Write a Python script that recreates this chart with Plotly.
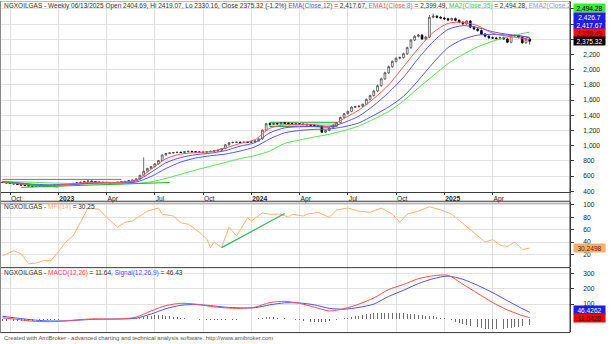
import pandas as pd
import plotly.graph_objects as go

# ---------------- data ----------------
WEEKS = pd.date_range("2022-09-23", "2025-06-13", freq="W-FRI")

OPEN = [522, 515, 510, 503, 497, 490, 482, 476, 470, 466,
        468, 471, 469, 474, 479, 484, 488, 491, 495, 499,
        505, 514, 520, 531, 536, 530, 522, 519, 517, 514,
        512, 516, 520, 526, 531, 541, 548, 562, 612, 665,
        702, 724, 762, 805, 878, 898, 905, 910, 914, 911,
        921, 926, 921, 918, 914, 916, 921, 927, 932, 940,
        962, 1012, 1040, 1044, 1046, 1043, 1047, 1045, 1050, 1062,
        1090, 1205, 1290, 1282, 1292, 1288, 1301, 1296, 1292, 1286,
        1290, 1284, 1280, 1276, 1270, 1266, 1258, 1178, 1200, 1232,
        1262, 1305, 1372, 1421, 1452, 1508, 1514, 1520, 1545, 1610,
        1660, 1720, 1790, 1880, 1960, 2040, 2110, 2150, 2160, 2210,
        2290, 2390, 2440, 2455, 2405, 2430, 2690, 2705, 2690, 2680,
        2670, 2655, 2672, 2650, 2625, 2605, 2640, 2560, 2535, 2515,
        2470, 2440, 2420, 2418, 2410, 2422, 2405, 2362, 2445, 2452,
        2428, 2355, 2404.69]
HIGH = [526, 519, 514, 507, 501, 494, 486, 480, 474, 472,
        475, 475, 478, 483, 488, 492, 495, 499, 503, 509,
        518, 524, 535, 540, 540, 534, 526, 523, 521, 518,
        520, 524, 530, 535, 545, 552, 566, 618, 846, 708,
        732, 770, 813, 886, 906, 913, 918, 922, 922, 929,
        934, 934, 929, 926, 924, 929, 935, 940, 948, 970,
        1020, 1048, 1052, 1054, 1054, 1055, 1055, 1058, 1070, 1098,
        1215, 1300, 1300, 1302, 1302, 1311, 1311, 1306, 1302, 1300,
        1300, 1294, 1290, 1286, 1280, 1276, 1268, 1210, 1242, 1272,
        1315, 1382, 1431, 1462, 1520, 1526, 1532, 1557, 1622, 1672,
        1735, 1805, 1895, 1975, 2055, 2125, 2165, 2175, 2225, 2305,
        2405, 2455, 2470, 2470, 2445, 2720, 2740, 2720, 2705, 2695,
        2685, 2687, 2687, 2665, 2640, 2655, 2655, 2575, 2550, 2530,
        2485, 2455, 2435, 2433, 2437, 2437, 2420, 2460, 2467, 2467,
        2443, 2419, 2419.07]
LOW = [511, 506, 499, 493, 486, 478, 472, 466, 462, 462,
       464, 465, 465, 470, 475, 480, 484, 487, 491, 495,
       501, 510, 516, 527, 526, 518, 515, 513, 510, 508,
       508, 512, 516, 522, 527, 537, 544, 558, 606, 659,
       694, 716, 754, 797, 870, 890, 897, 902, 903, 903,
       913, 913, 910, 906, 906, 908, 913, 919, 924, 932,
       954, 1004, 1032, 1036, 1035, 1035, 1037, 1037, 1042, 1054,
       1080, 1195, 1272, 1272, 1278, 1278, 1286, 1282, 1276, 1276,
       1274, 1270, 1266, 1260, 1256, 1248, 1168, 1168, 1190, 1222,
       1252, 1295, 1362, 1411, 1440, 1496, 1502, 1508, 1533, 1598,
       1645, 1705, 1775, 1865, 1945, 2025, 2095, 2135, 2145, 2195,
       2275, 2375, 2425, 2390, 2390, 2415, 2675, 2675, 2665, 2655,
       2640, 2640, 2635, 2610, 2590, 2590, 2545, 2520, 2500, 2455,
       2425, 2405, 2403, 2395, 2395, 2390, 2347, 2347, 2430, 2413,
       2340, 2340, 2330.16]
CLOSE = [515, 510, 503, 497, 490, 482, 476, 470, 466, 468,
         471, 469, 474, 479, 484, 488, 491, 495, 499, 505,
         514, 520, 531, 536, 530, 522, 519, 517, 514, 512,
         516, 520, 526, 531, 541, 548, 562, 612, 665, 702,
         724, 762, 805, 878, 898, 905, 910, 914, 911, 921,
         926, 921, 918, 914, 916, 921, 927, 932, 940, 962,
         1012, 1040, 1044, 1046, 1043, 1047, 1045, 1050, 1062, 1090,
         1205, 1290, 1282, 1292, 1288, 1301, 1296, 1292, 1286, 1290,
         1284, 1280, 1276, 1270, 1266, 1258, 1178, 1200, 1232, 1262,
         1305, 1372, 1421, 1452, 1508, 1514, 1520, 1545, 1610, 1660,
         1720, 1790, 1880, 1960, 2040, 2110, 2150, 2160, 2210, 2290,
         2390, 2440, 2455, 2405, 2430, 2690, 2705, 2690, 2680, 2670,
         2655, 2672, 2650, 2625, 2605, 2640, 2560, 2535, 2515, 2470,
         2440, 2420, 2418, 2410, 2422, 2405, 2362, 2445, 2452, 2428,
         2355, 2404.17, 2375.32]

# moving averages, sampled every 4 weeks (week index)
LINE_WEEKS = list(range(0, 141, 4)) + [142]
EMA8 = [518, 500, 478, 474, 485, 505, 522, 518, 520, 550, 690, 830, 890, 910, 922,
        970, 1030, 1080, 1230, 1275, 1278, 1275, 1255, 1360, 1470, 1620, 1800, 2040,
        2280, 2490, 2610, 2625, 2580, 2480, 2440, 2415, 2399.49]
EMA12 = [520, 505, 486, 479, 483, 497, 514, 517, 518, 537, 650, 775, 845, 882, 902,
         935, 995, 1040, 1170, 1235, 1250, 1252, 1245, 1305, 1390, 1530, 1700, 1900,
         2150, 2370, 2530, 2580, 2555, 2500, 2465, 2440, 2417.67]
EMA2 = [525, 512, 495, 486, 485, 492, 505, 510, 512, 522, 595, 700, 785, 838, 868,
        890, 930, 985, 1090, 1170, 1200, 1215, 1220, 1250, 1300, 1400, 1510, 1650,
        1860, 2090, 2290, 2400, 2455, 2465, 2455, 2440, 2426.70]
MA35 = [530, 525, 520, 512, 506, 501, 498, 498, 500, 505, 525, 570, 625, 680, 730,
        780, 830, 870, 930, 1030, 1075, 1115, 1150, 1200, 1260, 1350, 1450, 1590,
        1760, 1920, 2080, 2200, 2300, 2375, 2430, 2475, 2494.28]

# money flow index
MFI_WEEKS = [0, 3, 5, 7, 9, 11, 13, 15, 17, 19, 21, 23, 26, 28, 31, 33, 35, 39, 42, 43,
             46, 48, 50, 53, 55, 56, 57, 59, 61, 63, 66, 67, 70, 72, 75, 77, 78, 81, 82, 85,
             88, 90, 93, 96, 99, 102, 105, 107, 109, 112, 115, 118, 121, 124, 127, 130,
             132, 134, 136, 138, 140, 142]
MFI = [18, 26, 21, 5, 6, 10, 10, 24, 40, 50, 72, 95, 93, 80, 64, 72, 74, 90, 95, 85,
       82, 71, 69, 56, 45, 31, 40, 31, 64, 50, 79, 74, 87, 85, 85, 80, 85, 82, 85, 88,
       80, 92, 95, 90, 88, 95, 85, 72, 85, 90, 97, 92, 85, 70, 55, 40, 44, 35, 33, 40,
       28, 30.2498]

# MACD(12,26) and signal(9), sampled every 4 weeks; histogram weekly
MACD = [10, 0, -12, -15, -12, -3, 3, 2, 3, 15, 55, 90, 105, 100, 85, 75, 72, 80, 110,
        118, 105, 80, 55, 70, 100, 140, 195, 228, 266, 285, 288, 230, 170, 110, 62, 25,
        11.6428]
SIGNAL = [20, 8, -3, -10, -10, -6, 0, 2, 3, 8, 35, 70, 92, 97, 90, 80, 75, 76, 95, 108,
          107, 95, 72, 67, 78, 100, 150, 190, 234, 266, 283, 262, 222, 175, 122, 70,
          46.4262]
HIST = [-8, -8, -9, -9, -9, -10, -10, -10, -9, -8, -7, -6, -5, -4, -3, -2, -1, 0, 1, 2,
        3, 3, 3, 3, 2, 1, 0, 0, 0, 0, 0, 0, 1, 2, 3, 5, 8, 12, 17, 22,
        25, 28, 30, 28, 25, 22, 18, 14, 10, 7, 4, 2, 0, -2, -4, -5, -6, -6, -5, -5,
        -4, -3, -2, -1, 0, 1, 2, 3, 5, 8, 12, 16, 17, 15, 12, 9, 6, 3, 0, -3,
        -6, -9, -12, -14, -16, -17, -18, -16, -13, -9, -4, 1, 6, 11, 16, 20, 25, 29, 33, 36,
        39, 41, 43, 44, 44, 43, 42, 41, 40, 38, 36, 34, 31, 28, 25, 22, 19, 15, 10, 6,
        3, -6, -15, -24, -32, -38, -44, -49, -53, -57, -60, -63, -65, -65, -64, -62, -59, -55, -52, -50,
        -45, -40, -34.79]

# user-drawn study lines: (week, value) -> (week, value)
PRICE_TRENDS = [((0, 557), (32, 557)), ((0, 527), (15, 455)), ((5, 452), (45, 516))]
PRICE_ZONE = ((72, 1252), (90, 1309))
MFI_TREND = ((59, 31), (76, 86))

DATE_TICKS = ["2022-10-07", "2023-01-06", "2023-04-07", "2023-07-07", "2023-10-06",
              "2024-01-05", "2024-04-05", "2024-07-05", "2024-10-04", "2025-01-03",
              "2025-04-04"]
DATE_LABELS = ["Oct", "<b>2023</b>", "Apr", "Jul", "Oct", "<b>2024</b>", "Apr", "Jul",
               "Oct", "<b>2025</b>", "Apr"]
PRICE_TICKS = list(range(400, 2801, 200))
MFI_TICKS = [20, 40, 60, 80, 100]
MACD_TICKS = [100, 200, 300]

# ---------------- styling ----------------
W, H = 612, 344
FONT = "Liberation Sans"
C_EMA8, C_EMA12, C_EMA2, C_MA35 = "#ff5a5a", "#5656ff", "#5656ff", "#5fdc5f"
C_MFI, C_MACD, C_SIG = "#ffb27a", "#ff5050", "#5050ff"
GRID = "#e2e2e2"
AXIS = "#3a3a3a"
X_START, X_END = pd.Timestamp("2022-09-20"), pd.Timestamp("2025-08-28")
XDOM = [1 / W, 570 / W]


def py(p):
    """pixel row -> paper fraction"""
    return 1 - p / H


def fmt(v):
    s = f"{v:,.2f}"
    return s.rstrip("0").rstrip(".") if "." in s else s


fig = go.Figure()

fig.add_trace(go.Candlestick(
    x=WEEKS, open=OPEN, high=HIGH, low=LOW, close=CLOSE,
    increasing=dict(line=dict(color="#3a3a3a", width=0.7), fillcolor="#ffffff"),
    decreasing=dict(line=dict(color="#000000", width=0.7), fillcolor="#000000"),
    whiskerwidth=0, xaxis="x", yaxis="y", hoverinfo="skip", showlegend=False))

lw = [WEEKS[i] for i in LINE_WEEKS]
for vals, col in [(MA35, C_MA35), (EMA2, C_EMA2), (EMA12, C_EMA12), (EMA8, C_EMA8)]:
    fig.add_trace(go.Scatter(x=lw, y=vals, mode="lines", xaxis="x", yaxis="y",
                             line=dict(color=col, width=1, shape="spline", smoothing=0.7),
                             hoverinfo="skip", showlegend=False))

for (wa, va), (wb, vb) in PRICE_TRENDS:
    fig.add_trace(go.Scatter(x=[WEEKS[wa], WEEKS[wb]], y=[va, vb], mode="lines",
                             xaxis="x", yaxis="y", line=dict(color="#22b422", width=1),
                             hoverinfo="skip", showlegend=False))

(za, zlo), (zb, zhi) = PRICE_ZONE
fig.add_shape(type="rect", xref="x", yref="y", x0=WEEKS[za], x1=WEEKS[zb], y0=zlo, y1=zhi,
              line=dict(color="#2ea44f", width=1), fillcolor="rgba(90,190,130,0.40)",
              layer="below")

fig.add_trace(go.Scatter(x=[WEEKS[i] for i in MFI_WEEKS], y=MFI, mode="lines",
                         xaxis="x2", yaxis="y2", line=dict(color=C_MFI, width=1),
                         hoverinfo="skip", showlegend=False))
(ma, mva), (mb, mvb) = MFI_TREND
fig.add_trace(go.Scatter(x=[WEEKS[ma], WEEKS[mb]], y=[mva, mvb], mode="lines",
                         xaxis="x2", yaxis="y2", line=dict(color="#35b060", width=1.2),
                         hoverinfo="skip", showlegend=False))

fig.add_trace(go.Bar(x=WEEKS, y=HIST, xaxis="x3", yaxis="y3", width=1.7 * 86400000,
                     marker=dict(color="#6e6e6e", line=dict(width=0)),
                     hoverinfo="skip", showlegend=False))
fig.add_trace(go.Scatter(x=lw, y=SIGNAL, mode="lines", xaxis="x3", yaxis="y3",
                         line=dict(color=C_SIG, width=1, shape="spline", smoothing=0.7),
                         hoverinfo="skip", showlegend=False))
fig.add_trace(go.Scatter(x=lw, y=MACD, mode="lines", xaxis="x3", yaxis="y3",
                         line=dict(color=C_MACD, width=1, shape="spline", smoothing=0.7),
                         hoverinfo="skip", showlegend=False))

# pointer tips of the last-value tags
tip_x = X_END + pd.Timedelta(days=3)
for yax, xax, val, col in [("y", "x", CLOSE[-1], "#000000"), ("y2", "x2", MFI[-1], "#ffad6b"),
                           ("y3", "x3", MACD[-1], "#ee0000")]:
    fig.add_trace(go.Scatter(x=[tip_x], y=[val], mode="markers", xaxis=xax, yaxis=yax,
                             marker=dict(symbol="triangle-left", size=7, color=col),
                             cliponaxis=False, hoverinfo="skip", showlegend=False))

tickfont = dict(family=FONT, size=6.7, color="#222222")
xcommon = dict(domain=XDOM, range=[X_START, X_END], tickvals=DATE_TICKS, showgrid=True,
               gridcolor=GRID, gridwidth=1, zeroline=False, fixedrange=True)
ycommon = dict(side="right", showgrid=True, gridcolor=GRID, zeroline=False, ticks="outside",
               ticklen=3, tickcolor=AXIS, tickfont=tickfont, showline=True, linecolor=AXIS,
               linewidth=1, ticklabelstandoff=8, fixedrange=True)

price_text = [f"{v:,}" if v <= 2200 else "" for v in PRICE_TICKS]

fig.update_layout(
    width=W, height=H, margin=dict(l=0, r=0, t=0, b=0),
    paper_bgcolor="white", plot_bgcolor="white", showlegend=False,
    font=dict(family=FONT, size=6.5, color="#222222"),
    xaxis=dict(**xcommon, anchor="y", ticktext=DATE_LABELS, ticks="outside", ticklen=2,
               tickcolor=AXIS, showline=True, linecolor=AXIS, linewidth=1,
               ticklabelposition="outside right", tickfont=tickfont,
               rangeslider=dict(visible=False)),
    xaxis2=dict(**xcommon, anchor="y2", showticklabels=False, matches="x"),
    xaxis3=dict(**xcommon, anchor="y3", showticklabels=False, matches="x"),
    yaxis=dict(**ycommon, anchor="x", domain=[py(193), py(1)], range=[387, 2891],
               tickvals=PRICE_TICKS, ticktext=price_text),
    yaxis2=dict(**ycommon, anchor="x2", domain=[py(268), py(203)], range=[0.3, 104.3],
                tickvals=MFI_TICKS),
    yaxis3=dict(**ycommon, anchor="x3", domain=[py(334), py(269)], range=[-83, 338],
                tickvals=MACD_TICKS),
    bargap=0,
)

# panel frames
frame = []
for yy, col, wdt in [(0.5, "#bdbdbd", 1), (202.0, AXIS, 1), (204.0, "#9a9a9a", 1),
                     (269.0, AXIS, 1), (334.5, AXIS, 1)]:
    frame.append(dict(type="line", xref="paper", yref="paper", x0=0, x1=570 / W,
                      y0=py(yy), y1=py(yy), line=dict(color=col, width=wdt)))
frame.append(dict(type="line", xref="paper", yref="paper", x0=0.5 / W, x1=0.5 / W,
                  y0=py(334.5), y1=py(0), line=dict(color="#8a8a8a", width=1)))
frame.append(dict(type="line", xref="paper", yref="paper", x0=570 / W, x1=570 / W,
                  y0=py(334.5), y1=py(0), line=dict(color=AXIS, width=1)))
for s in frame:
    fig.add_shape(**s)

# titles
chg = (CLOSE[-1] / CLOSE[-2] - 1) * 100
main_title = (
    f"NGXOILGAS - Weekly {WEEKS[-1]:%m/%d/%Y} Open {OPEN[-1]:.2f}, Hi {HIGH[-1]:.2f}, "
    f"Lo {LOW[-1]:.2f}, Close {CLOSE[-1]:.2f} ({chg:.1f}%) "
    f"<span style='color:{C_EMA12}'>EMA(Close,12)</span> = {EMA12[-1]:,.2f}, "
    f"<span style='color:{C_EMA8}'>EMA1(Close,8)</span> = {EMA8[-1]:,.2f}, "
    f"<span style='color:#3ccc3c'>MA2(Close,35)</span> = {MA35[-1]:,.2f}, "
    f"<span style='color:#8f8fff'>EMA2(Close,2</span>"
)
mfi_title = f"NGXOILGAS - <span style='color:{C_MFI}'>MFI(14)</span> = {MFI[-1]:.2f}"
macd_title = (f"NGXOILGAS - <span style='color:{C_MACD}'>MACD(12,26)</span> = {MACD[-1]:.2f}, "
              f"<span style='color:{C_SIG}'>Signal(12,26,9)</span> = {SIGNAL[-1]:.2f}")
footer = ("Created with AmiBroker - advanced charting and technical analysis software. "
          "http://www.amibroker.com")

for txt, yy, sz, col in [(main_title, 5.2, 6.5, "#333333"), (mfi_title, 207.5, 6.5, "#333333"),
                         (macd_title, 274, 6.5, "#333333"), (footer, 340, 5.9, "#555555")]:
    fig.add_annotation(text=txt, xref="paper", yref="paper", x=2 / W, y=py(yy),
                       xanchor="left", yanchor="middle", showarrow=False,
                       font=dict(family=FONT, size=sz, color=col))

# last-value tags
tags = [
    (fmt(MA35[-1]), "paper", py(7.0), "#35ee35", "#000000"),
    (fmt(EMA2[-1]), "paper", py(16.0), "#1e1edc", "#ffffff"),
    (fmt(EMA12[-1]), "paper", py(24.2), "#1e1edc", "#ffffff"),
    (fmt(EMA8[-1]), "paper", py(32.4), "#ee1111", "#5a0000"),
    (fmt(CLOSE[-1]), "y", CLOSE[-1], "#000000", "#ffffff"),
    (f"{MFI[-1]:.4f}", "y2", MFI[-1], "#ffad6b", "#4a2a00"),
    (f"{SIGNAL[-1]:.4f}", "paper", py(312.0), "#1e1edc", "#ffffff"),
    (f"{MACD[-1]:.4f}", "y3", MACD[-1], "#ee0000", "#4a0000"),
]
for txt, yref, yv, bg, fg in tags:
    fig.add_annotation(text=txt, xref="paper", yref=yref, x=573 / W, y=yv,
                       xanchor="left", yanchor="middle", showarrow=False,
                       bgcolor=bg, borderpad=0, width=31, height=8, align="center",
                       font=dict(family=FONT, size=6.6, color=fg))

fig.write_html("out.html", config={"displayModeBar": False, "staticPlot": True})
